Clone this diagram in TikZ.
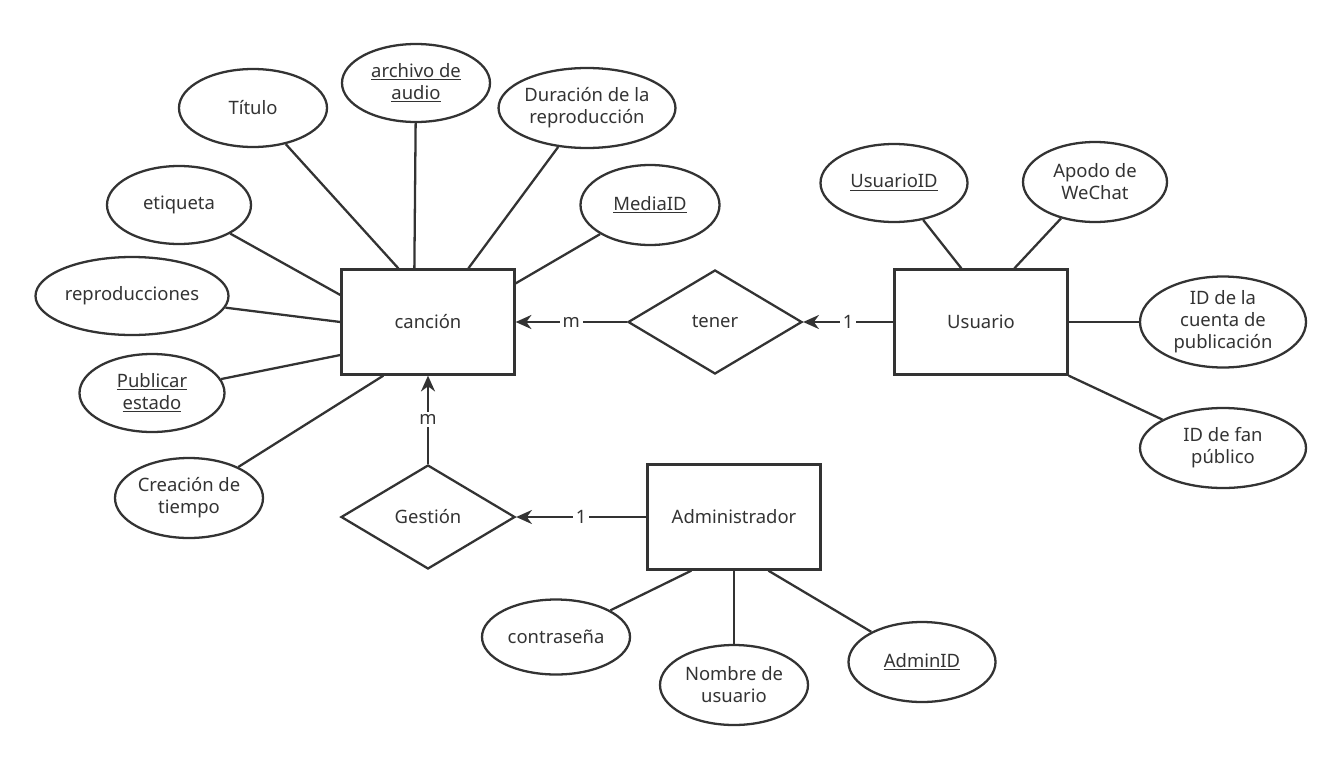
\documentclass[tikz,border=0pt]{standalone}
\usepackage{fontspec}
\setmainfont{Noto Sans}
\usetikzlibrary{shapes.geometric,arrows.meta}

\begin{document}
\begin{tikzpicture}[x=0.02cm,y=-0.02cm,line width=1.3pt,color={black!80},
    font=\fontsize{10.5}{12.5}\selectfont,
    entidad/.style={draw,minimum width=173*0.02cm,minimum height=105*0.02cm,inner sep=0pt},
    relacion/.style={draw,diamond,aspect=1.7,minimum width=174*0.02cm,minimum height=104*0.02cm,inner sep=0pt},
    atributo/.style={draw,ellipse,minimum width=#1*0.02cm,minimum height=78*0.02cm,inner sep=0pt,align=center},
    atributo/.default=148,
    card/.style={fill=white,inner sep=1.5pt},
    flecha/.style={-{Stealth[length=9pt,width=8pt]}}]
    \useasboundingbox (0,0) rectangle (1344,764);
    
    \node[entidad] (cancion) at (428,322) {canción};
    \node[entidad] (usuario) at (981,322) {Usuario};
    \node[entidad] (admin) at (734,517) {Administrador};
    \node[relacion] (tener) at (715,322) {tener};
    \node[relacion] (gestion) at (428,517) {Gestión};
    
    \node[atributo] (titulo) at (253,108) {Título};
    \node[atributo] (archivo) at (416,83) {\underline{archivo de}\\\underline{audio}};
    \node[atributo=164,minimum height=80*0.02cm] (duracion) at (587,108) {Duración de la\\reproducción};
    \node[atributo=139,minimum height=80*0.02cm] (media) at (650,205) {\underline{MediaID}};
    \node[atributo=144] (etiqueta) at (179,205) {etiqueta};
    \node[atributo=193] (reprod) at (132,296) {reproducciones};
    \node[atributo=145] (publicar) at (152,393) {\underline{Publicar}\\\underline{estado}};
    \node[atributo,minimum height=80*0.02cm] (creacion) at (189,498) {Creación de\\tiempo};
    
    \node[atributo=147] (usuarioid) at (894,183) {\underline{UsuarioID}};
    \node[atributo=144,minimum height=80*0.02cm] (apodo) at (1095,182) {Apodo de\\WeChat};
    \node[atributo=166,minimum height=91*0.02cm] (cuenta) at (1223,322) {ID de la\\cuenta de\\publicación};
    \node[atributo=166,minimum height=80*0.02cm] (fan) at (1223,448) {ID de fan\\público};
    
    \node[atributo,minimum height=75*0.02cm] (clave) at (556,637) {contraseña};
    \node[atributo,minimum height=80*0.02cm] (nombre) at (734,685) {Nombre de\\usuario};
    \node[atributo=147,minimum height=80*0.02cm] (adminid) at (922,662) {\underline{AdminID}};
    
    % atributos
    \draw (titulo) -- ([xshift=58*0.02cm]cancion.north west);
    \draw (archivo) -- ([xshift=74*0.02cm]cancion.north west);
    \draw (duracion) -- ([xshift=128*0.02cm]cancion.north west);
    \draw (media) -- ([yshift=-15*0.02cm]cancion.north east);
    \draw (etiqueta) -- ([yshift=27*0.02cm]cancion.west);
    \draw (reprod) -- (cancion.west);
    \draw (publicar) -- ([yshift=-33*0.02cm]cancion.west);
    \draw (creacion) -- ([xshift=43*0.02cm]cancion.south west);
    \draw (usuarioid) -- ([xshift=68*0.02cm]usuario.north west);
    \draw (apodo) -- ([xshift=121*0.02cm]usuario.north west);
    \draw (cuenta) -- (usuario);
    \draw (fan) -- (usuario.south east);
    \draw (clave) -- ([xshift=45*0.02cm]admin.south west);
    \draw (nombre) -- (admin.south);
    \draw (adminid) -- ([xshift=122*0.02cm]admin.south west);
    
    % relaciones
    \draw[flecha] (tener) -- node[card]{m} (cancion);
    \draw[flecha] (usuario) -- node[card]{1} (tener);
    \draw[flecha] (gestion) -- node[card]{m} (cancion);
    \draw[flecha] (admin) -- node[card]{1} (gestion);
\end{tikzpicture}
\end{document}
